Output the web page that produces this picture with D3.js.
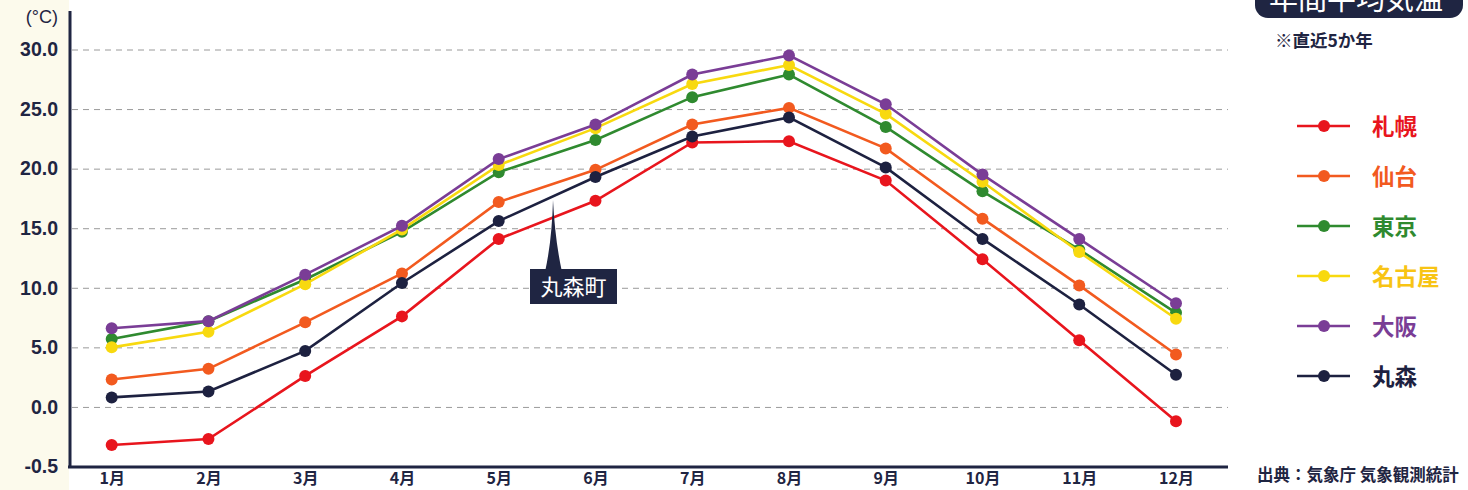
<!DOCTYPE html>
<html>
<head>
<meta charset="utf-8">
<script src="https://cdn.jsdelivr.net/npm/d3@7"></script>
<style>
  html, body { margin: 0; padding: 0; background: #ffffff; }
  svg { display: block; }
  text { font-family: "Liberation Sans", Arial, "Noto Sans CJK JP", sans-serif; font-weight: bold; }
  .jp { font-family: "Noto Sans CJK JP", sans-serif; font-weight: bold; }
</style>
</head>
<body>
<svg id="chart" width="1468" height="490"></svg>
<script>
const months = ["1月", "2月", "3月", "4月", "5月", "6月", "7月", "8月", "9月", "10月", "11月", "12月"];
const cities = ["札幌", "仙台", "東京", "名古屋", "大阪", "丸森"];
const colors = ["#e8151d", "#f25a1f", "#2f8a2f", "#f8d90f", "#7a3d96", "#1d2140"];

const sapporo  = [-3.2, -2.7, 2.6, 7.6, 14.1, 17.3, 22.2, 22.3, 19.0, 12.4, 5.6, -1.2];
const sendai   = [2.3, 3.2, 7.1, 11.2, 17.2, 19.9, 23.7, 25.1, 21.7, 15.8, 10.2, 4.4];
const tokyo    = [5.7, 7.2, 10.7, 14.7, 19.7, 22.4, 26.0, 27.9, 23.5, 18.1, 13.2, 7.9];
const nagoya   = [5.0, 6.3, 10.3, 14.9, 20.3, 23.4, 27.1, 28.7, 24.6, 18.9, 13.0, 7.4];
const osaka    = [6.6, 7.2, 11.1, 15.2, 20.8, 23.7, 27.9, 29.5, 25.4, 19.5, 14.1, 8.7];
const marumori = [0.8, 1.3, 4.7, 10.4, 15.6, 19.3, 22.7, 24.3, 20.1, 14.1, 8.6, 2.7];

const yTicks = [-5, 0, 5, 10, 15, 20, 25, 30];
const yTickLabels = ["-0.5", "0.0", "5.0", "10.0", "15.0", "20.0", "25.0", "30.0"];

const series = [sapporo, sendai, tokyo, nagoya, osaka, marumori];

const svg = d3.select("#chart");
const navy = "#1f2542";

// cream strip left of the axis
svg.append("rect").attr("x", 0).attr("y", 0).attr("width", 69).attr("height", 490).attr("fill", "#fcfaec");

const x = d3.scalePoint().domain(months).range([111.7, 1176]);
const y = d3.scaleLinear().domain([-5, 30]).range([466.5, 49.5]);

// dashed gridlines
const grid = svg.append("g")
    .attr("transform", "translate(72,0)")
    .call(d3.axisLeft(y).tickValues(yTicks.filter(d => d > -5)).tickSize(-1156).tickFormat(""));
grid.select(".domain").remove();
grid.selectAll("line")
    .attr("stroke", "#9a9a9a")
    .attr("stroke-width", 1)
    .attr("stroke-dasharray", "6,5");

// y tick labels
const yAxis = svg.append("g")
    .attr("transform", "translate(58,0)")
    .call(d3.axisLeft(y).tickValues(yTicks).tickSize(0).tickPadding(0)
        .tickFormat((d, i) => yTickLabels[i]));
yAxis.select(".domain").remove();
yAxis.selectAll("text")
    .attr("fill", navy)
    .style("font-size", "19.5px")
    .style("font-family", "'Liberation Sans', Arial, sans-serif")
    .style("font-weight", "bold");

svg.append("text")
    .attr("x", 58).attr("y", 23)
    .attr("text-anchor", "end")
    .attr("fill", navy)
    .style("font-size", "18px")
    .style("font-weight", "normal")
    .text("(°C)");

// x labels
const xAxis = svg.append("g")
    .attr("transform", "translate(0,471)")
    .call(d3.axisBottom(x).tickSize(0).tickPadding(0));
xAxis.select(".domain").remove();
xAxis.selectAll("text")
    .attr("class", "jp")
    .attr("dy", "0.8em")
    .attr("fill", navy)
    .style("font-size", "16px");

// axis lines
svg.append("line").attr("x1", 70).attr("x2", 70).attr("y1", 11).attr("y2", 468)
    .attr("stroke", navy).attr("stroke-width", 3);
svg.append("line").attr("x1", 68).attr("x2", 1228).attr("y1", 467).attr("y2", 467)
    .attr("stroke", navy).attr("stroke-width", 3);

// series lines and points
const line = d3.line().x((d, i) => x(months[i])).y(d => y(d));
const order = [0, 1, 5, 2, 3, 4];
order.forEach(k => {
    const g = svg.append("g");
    g.append("path")
        .datum(series[k])
        .attr("d", line)
        .attr("fill", "none")
        .attr("stroke", colors[k])
        .attr("stroke-width", 2.6);
    g.selectAll("circle")
        .data(series[k])
        .enter().append("circle")
        .attr("cx", (d, i) => x(months[i]))
        .attr("cy", d => y(d))
        .attr("r", 6)
        .attr("fill", colors[k]);
});

// callout
const callout = svg.append("g");
callout.append("path")
    .attr("d", "M545,272 Q552,240 553,200 Q555,240 562,272 Z")
    .attr("fill", navy);
callout.append("rect")
    .attr("x", 530).attr("y", 269).attr("width", 87).attr("height", 35)
    .attr("fill", navy);
callout.append("text")
    .attr("class", "jp")
    .attr("x", 573.5).attr("y", 294.5)
    .attr("text-anchor", "middle")
    .attr("fill", "#ffffff")
    .style("font-size", "22px")
    .style("font-weight", "normal")
    .text("丸森町");

// title badge (cut off at the top)
svg.append("rect")
    .attr("x", 1255).attr("y", -30).attr("width", 208).attr("height", 48).attr("rx", 13)
    .attr("fill", navy);
svg.append("text")
    .attr("class", "jp")
    .attr("x", 1356).attr("y", 10)
    .attr("text-anchor", "middle")
    .attr("fill", "#ffffff")
    .style("font-size", "29px")
    .style("font-weight", "normal")
    .text("年間平均気温");

svg.append("text")
    .attr("class", "jp")
    .attr("x", 1275).attr("y", 47)
    .attr("fill", navy)
    .style("font-size", "17.5px")
    .text("※直近5か年");

// legend
const legend = svg.append("g")
    .selectAll("g")
    .data(cities)
    .enter().append("g")
    .attr("transform", (d, i) => `translate(0,${126 + i * 50})`);
legend.append("line")
    .attr("x1", 1297).attr("x2", 1350)
    .attr("stroke", (d, i) => colors[i])
    .attr("stroke-width", 2.6);
legend.append("circle")
    .attr("cx", 1324).attr("r", 6)
    .attr("fill", (d, i) => colors[i]);
legend.append("text")
    .attr("class", "jp")
    .attr("x", 1372).attr("y", 8.5)
    .attr("fill", (d, i) => i === 3 ? "#f8c414" : colors[i])
    .style("font-size", "22.5px")
    .text(d => d);

svg.append("text")
    .attr("class", "jp")
    .attr("x", 1257).attr("y", 481)
    .attr("fill", navy)
    .style("font-size", "16.5px")
    .text("出典：気象庁 気象観測統計");
</script>
</body>
</html>
